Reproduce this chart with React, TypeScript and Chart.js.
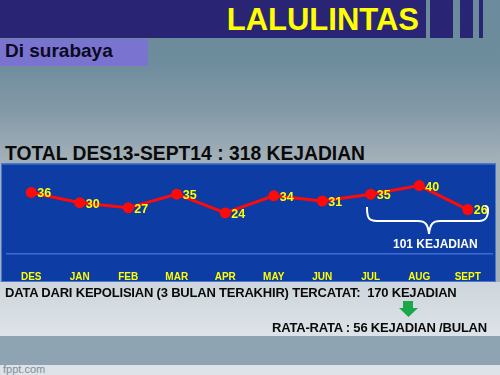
import React, { useEffect, useRef } from "react";
import { Chart, registerables } from "chart.js";

Chart.register(...registerables);

const months = ["DES", "JAN", "FEB", "MAR", "APR", "MAY", "JUN", "JUL", "AUG", "SEPT"];
const kejadian = [36, 30, 27, 35, 24, 34, 31, 35, 40, 26];
const yMin = 0;
const yMax = 50;

const FONT = '"Liberation Sans", Arial, Helvetica, sans-serif';

const labelPlugin = {
  id: "pointLabels",
  afterDatasetsDraw(chart: any) {
    const ctx = chart.ctx;
    const meta = chart.getDatasetMeta(0);
    ctx.save();
    ctx.font = `bold 12.5px ${FONT}`;
    ctx.fillStyle = "#ffff00";
    ctx.textAlign = "left";
    ctx.textBaseline = "middle";
    meta.data.forEach((pt: any, i: number) => {
      ctx.fillText(String(chart.data.datasets[0].data[i]), pt.x + 6, pt.y + 1.5);
    });
    ctx.restore();
  },
};

function LineChart() {
  const ref = useRef<HTMLCanvasElement | null>(null);
  useEffect(() => {
    if (!ref.current) return;
    const chart = new Chart(ref.current, {
      type: "line",
      data: {
        labels: months,
        datasets: [
          {
            data: kejadian,
            borderColor: "#ff0a0a",
            backgroundColor: "#ff0a0a",
            borderWidth: 3,
            pointRadius: 5.5,
            pointBorderWidth: 0,
            pointBackgroundColor: "#ff0a0a",
            tension: 0,
            clip: false as any,
          },
        ],
      },
      options: {
        responsive: false,
        animation: false,
        layout: { padding: { left: 7, right: 8, top: 0, bottom: 0 } },
        plugins: { legend: { display: false }, tooltip: { enabled: false } },
        scales: {
          x: {
            type: "category",
            offset: true,
            grid: { display: false },
            border: { display: true, color: "#3d6cd0", width: 1.5 },
            ticks: {
              color: "#ffff00",
              font: { family: FONT, size: 10, weight: "bold" },
              padding: 9,
              maxRotation: 0,
              autoSkip: false,
            },
            afterFit(scale: any) {
              scale.height = 29;
            },
          },
          y: { display: false, min: yMin, max: yMax },
        },
      },
      plugins: [labelPlugin],
    });
    return () => chart.destroy();
  }, []);
  return (
    <canvas
      ref={ref}
      width={500}
      height={120}
      style={{ position: "absolute", left: 0, top: 163, width: 500, height: 120 }}
    />
  );
}

const bold = (size: number, color: string, extra: React.CSSProperties = {}): React.CSSProperties => ({
  position: "absolute",
  fontFamily: FONT,
  fontWeight: "bold",
  fontSize: size,
  color,
  whiteSpace: "nowrap",
  lineHeight: 1,
  ...extra,
});

export default function App() {
  return (
    <div
      style={{
        position: "fixed",
        left: 0,
        top: 0,
        width: 500,
        height: 375,
        overflow: "hidden",
        background: "linear-gradient(180deg, #6b8a9b 0px, #6d8c9c 60px, #8399a7 110px, #a3b0b8 160px)",
      }}
    >
      {/* top navy band and stripes */}
      <div style={{ position: "absolute", left: 0, top: 0, width: 426, height: 38, background: "#2a2475" }} />
      <div style={{ position: "absolute", left: 430, top: 0, width: 23, height: 38, background: "#2a2475" }} />
      <div style={{ position: "absolute", left: 460, top: 0, width: 13, height: 38, background: "#2a2475" }} />
      <div style={{ position: "absolute", left: 479, top: 0, width: 4, height: 38, background: "#2a2475" }} />
      <div style={bold(31, "#ffff00", { right: 81, top: 4 })}>LALULINTAS</div>

      {/* subtitle box */}
      <div style={{ position: "absolute", left: 0, top: 39, width: 148, height: 27, background: "#7a74d0" }} />
      <div style={bold(19, "#0a0a20", { left: 5, top: 41 })}>Di surabaya</div>

      {/* title */}
      <div style={bold(19.3, "#0a0a0a", { left: 5, top: 144 })}>
        TOTAL DES13-SEPT14 : 318 KEJADIAN
      </div>

      {/* lower light area and bands */}
      <div
        style={{
          position: "absolute",
          left: 0,
          top: 282,
          width: 500,
          height: 54,
          background: "linear-gradient(180deg, #cdd6dc, #dde3e8)",
        }}
      />
      <div style={{ position: "absolute", left: 0, top: 336, width: 500, height: 29, background: "#8fa4b2" }} />
      <div style={{ position: "absolute", left: 0, top: 365, width: 500, height: 10, background: "#dde3e8" }} />
      <div
        style={{
          position: "absolute",
          left: 3,
          top: 364,
          fontFamily: FONT,
          fontSize: 11,
          color: "#7f8e9a",
          lineHeight: 1,
        }}
      >
        fppt.com
      </div>

      {/* chart box */}
      <div
        style={{
          position: "absolute",
          left: 1,
          top: 163,
          width: 493,
          height: 117,
          background: "#0c3ca4",
          border: "1px solid #4a78cc",
          boxShadow: "inset 0 1px 0 #2f5fc0",
        }}
      />
      <LineChart />

      {/* bracket */}
      <svg
        width={500}
        height={375}
        style={{ position: "absolute", left: 0, top: 0, pointerEvents: "none" }}
      >
        <path
          d="M367 207 C367 217 368 221 377 221 L418 221 C425 221 428 224 429 234 C430 224 433 221 440 221 L479 221 C486 221 488 217 488 210 C488 207 487 206 485 206"
          fill="none"
          stroke="#ffffff"
          strokeWidth={2}
        />
        <path d="M403 301 L413 301 L413 308 L418 308 L408.5 317 L399 308 L403 308 Z" fill="#1aa84a" />
      </svg>
      <div style={bold(12, "#ffffff", { left: 393, top: 238 })}>101 KEJADIAN</div>

      {/* bottom texts */}
      <div style={bold(13, "#0a0a0a", { left: 5, top: 286, letterSpacing: -0.2 })}>
        DATA DARI KEPOLISIAN (3 BULAN TERAKHIR) TERCATAT:&nbsp; 170 KEJADIAN
      </div>
      <div style={bold(13, "#0a0a0a", { left: 272, top: 321, letterSpacing: -0.2 })}>
        RATA-RATA : 56 KEJADIAN /BULAN
      </div>
    </div>
  );
}
